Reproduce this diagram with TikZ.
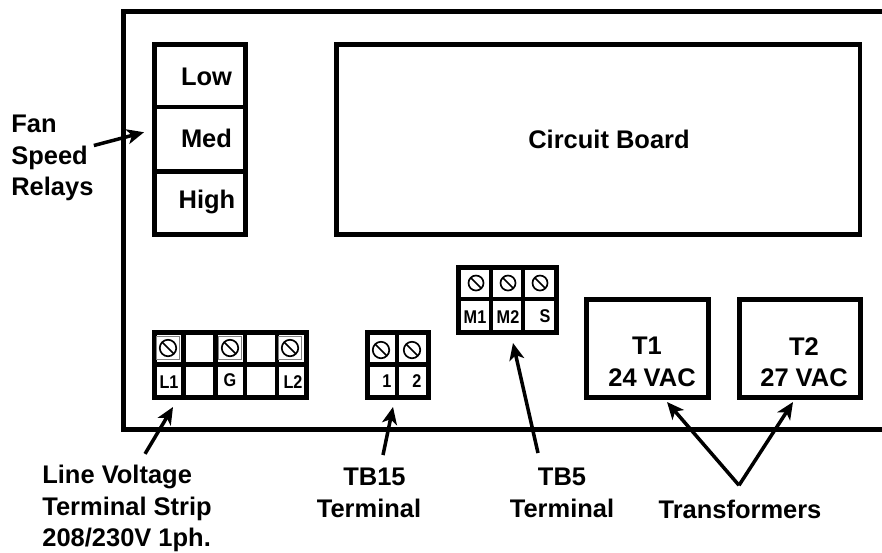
\documentclass[tikz,border=0pt]{standalone}
\usepackage{fontspec}
\setmainfont{Liberation Sans}
\newfontfamily\termfont[FakeStretch=0.88]{Liberation Sans Bold}
\usepackage{xcolor}
\usetikzlibrary{arrows.meta}
\newcommand{\bigtext}{\fontsize{14.5}{17.9}\selectfont\bfseries}
\newcommand{\smalltext}{\termfont\fontsize{10.5}{12}\selectfont}
\tikzset{
    wall/.style={line width=2.7pt},
    box/.style={draw,wall,inner sep=0,outer sep=0},
    biglabel/.style={inner sep=0,align=center,font=\bigtext},
    smalllabel/.style={inner sep=0,font=\smalltext},
    pointer/.style={line width=2pt,-{Stealth[length=0.34cm,width=0.3cm,inset=0.09cm]}},
    screw/.style={circle,draw,line width=0.95pt,inner sep=0,minimum size=0.33cm,
        path picture={\draw[line width=0.95pt] (path picture bounding box.north west) -- (path picture bounding box.south east);}},
    screwframe/.style={draw=gray,line width=0.6pt,fill=white,inner sep=0,minimum size=0.46cm}
}

\begin{document}
\begin{tikzpicture}[x=0.02cm,y=-0.02cm]
        \useasboundingbox (0,0) rectangle (882,552);

        % cabinet outline, open on the right
        \draw[wall] (882,11.5) -- (123.5,11.5) -- (123.5,429.5) -- (882,429.5);

        % relays and board
        \node[box,minimum width=1.82cm,minimum height=1.25cm] (low) at (200,75.75) {};
        \node[box,minimum width=1.82cm,minimum height=1.29cm] (med) at (200,139.25) {};
        \node[box,minimum width=1.82cm,minimum height=1.26cm] (high) at (200,203) {};
        \node[box,minimum width=10.47cm,minimum height=3.8cm] (board) at (598.25,139.5) {};
        \node[biglabel] (lowtext) at (206.5,77) {Low};
        \node[biglabel] (medtext) at (206.5,138) {Med};
        \node[biglabel] (hightext) at (207,202) {High};
        \node[biglabel] (boardtext) at (609,139) {Circuit Board};

        % transformers
        \node[box,minimum width=2.44cm,minimum height=1.96cm] (tone) at (647.5,348.5) {};
        \node[box,minimum width=2.42cm,minimum height=1.96cm] (ttwo) at (800,348.5) {};
        \node[biglabel] (tonetext) at (652,362) {\hspace*{-0.2cm}T1\\24 VAC};
        \node[biglabel] (ttwotext) at (804,362) {T2\\27 VAC};

        % line voltage strip
        \node[box,minimum width=3.04cm,minimum height=1.3cm] (strip) at (230.5,365) {};
        \draw[wall] (183.5,332.5) -- (183.5,397.5);
        \draw[wall] (215.5,332.5) -- (215.5,397.5);
        \draw[wall] (245,332.5) -- (245,397.5);
        \draw[wall] (277,332.5) -- (277,397.5);
        \draw[wall] (154.5,364.5) -- (306.5,364.5);
        \node[screwframe] (frameA) at (168,348) {};
        \node[screwframe] (frameB) at (230,348) {};
        \node[screwframe] (frameC) at (290,348) {};
        \node[screw] (screwA) at (168,348) {};
        \node[screw] (screwB) at (230,348) {};
        \node[screw] (screwC) at (290,348) {};
        \node[smalllabel] (lone) at (169,382) {L1};
        \node[smalllabel] (ground) at (230,380) {G};
        \node[smalllabel] (ltwo) at (293,382) {L2};

        % TB15
        \node[box,minimum width=1.22cm,minimum height=1.3cm] (tbfifteen) at (398,365) {};
        \draw[wall] (397,332.5) -- (397,397.5);
        \draw[wall] (367.5,364.5) -- (428.5,364.5);
        \node[screw] (screwD) at (381,350) {};
        \node[screw] (screwE) at (412,350) {};
        \node[smalllabel] (termone) at (387,381) {1};
        \node[smalllabel] (termtwo) at (417,381) {2};

        % TB5
        \node[box,minimum width=1.96cm,minimum height=1.3cm] (tbfive) at (507.5,300) {};
        \draw[wall] (491,267.5) -- (491,332.5);
        \draw[wall] (523,267.5) -- (523,332.5);
        \draw[wall] (458.5,299) -- (556.5,299);
        \node[screw,minimum size=0.3cm] (screwF) at (476,283) {};
        \node[screw,minimum size=0.3cm] (screwG) at (508,283) {};
        \node[screw,minimum size=0.3cm] (screwH) at (540,283) {};
        \node[smalllabel] (mone) at (475,317) {M1};
        \node[smalllabel] (mtwo) at (508,317) {M2};
        \node[smalllabel] (sterm) at (545,316) {S};

        % names outside the cabinet
        \node[biglabel,align=left,anchor=west] (fantext) at (11,158) {Fan\\Speed\\Relays};
        \node[biglabel,align=left,anchor=west] (linetext) at (42,508.5) {Line Voltage\\Terminal Strip\\208/230V 1ph.};
        \node[biglabel] (fifteentext) at (369,493) {\hspace*{0.22cm}TB15\\Terminal};
        \node[biglabel] (fivetext) at (562,493) {TB5\\Terminal};
        \node[biglabel] (transtext) at (740,509) {Transformers};

        % pointers
        \draw[pointer] ([shift={(0,-12.5)}]fantext.east) -- ([shift={(-10.5,-7)}]med.west);
        \draw[pointer] ([shift={(18,-11)}]linetext.north) -- ([shift={(-57.5,9.5)}]strip.south);
        \draw[pointer] ([shift={(14,-13)}]fifteentext.north) -- ([shift={(-5,9.5)}]tbfifteen.south);
        \draw[pointer] ([shift={(-24,-15)}]fivetext.north) -- ([shift={(5.5,10.5)}]tbfive.south);
        \draw[pointer] ([shift={(-1,-14)}]transtext.north) -- ([shift={(19.5,4.5)}]tone.south);
        \draw[pointer] ([shift={(-1,-14)}]transtext.north) -- ([shift={(-7,4.5)}]ttwo.south);

    \end{tikzpicture}
\end{document}
